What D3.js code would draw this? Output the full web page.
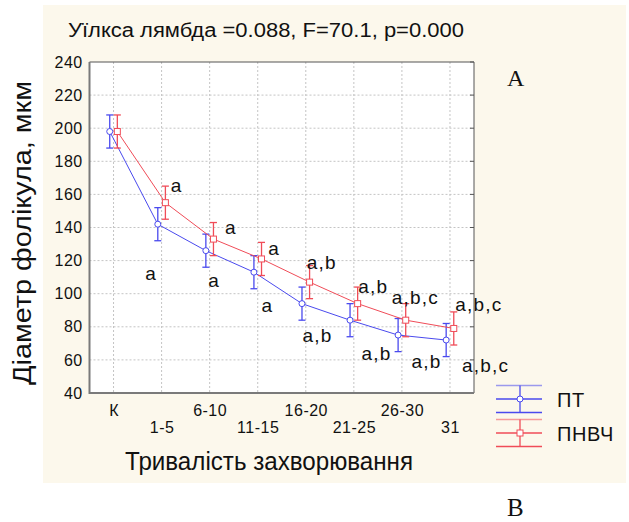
<!DOCTYPE html>
<html>
<head>
<meta charset="utf-8">
<script src="https://cdn.jsdelivr.net/npm/d3@7"></script>
<style>
  body { margin: 0; background: #fff; }
  svg { display: block; font-family: Arial, "Liberation Sans", sans-serif; }
</style>
</head>
<body>
<svg></svg>
<script>
const width = 629;
const height = 522;

// categories on x (тривалість захворювання)
const categories = ["К", "1-5", "6-10", "11-15", "16-20", "21-25", "26-30", "31"];
const yTicks = [40, 60, 80, 100, 120, 140, 160, 180, 200, 220, 240];

// series values (mean diameter, mkm) and CI half-width
const ptMean = [198, 142, 126, 113, 94, 84, 75, 72];
const ptCi = [10, 10, 10, 10, 10, 10, 10, 10];
const pnvchMean = [198, 155, 133, 121, 107, 94, 84, 79];
const pnvchCi = [10, 10, 10, 10, 10, 10, 10, 10];

// significance letters, placed at (category index, mkm)
const pnvchMarks = ["a", "a", "a", "a,b", "a,b", "a,b,c", "a,b,c"];
const pnvchMarkAt = [[1.19, 161.6], [2.32, 136.1], [3.22, 123.4], [4.02, 114.7], [5.09, 100.6], [5.79, 93.6], [7.11, 89.6]];
const ptMarks = ["a", "a", "a", "a,b", "a,b", "a,b", "a,b,c"];
const ptMarkAt = [[0.66, 108.3], [1.97, 104.2], [3.08, 89.1], [3.93, 71], [5.16, 60], [6.2, 55.3], [7.25, 52.9]];

const blue = "#4a4aee";
const red = "#f04c58";

var svg = d3.select("svg")
  .attr("width", width)
  .attr("height", height);

// beige panel
svg.append("rect")
  .attr("x", 43).attr("y", 5)
  .attr("width", 583).attr("height", 478)
  .attr("fill", "#fcf8ec");

const pLeft = 89.5, pRight = 474, pTop = 62, pBottom = 393;

const x = d3.scaleLinear().domain([-0.5, 7.5]).range([pLeft, pRight]);
const y = d3.scaleLinear().domain([40, 240]).range([pBottom, pTop]);

svg.append("rect")
  .attr("x", pLeft).attr("y", pTop)
  .attr("width", pRight - pLeft).attr("height", pBottom - pTop)
  .attr("fill", "#fff");

// grid
svg.append("g").selectAll("line")
  .data(d3.range(categories.length))
  .enter().append("line")
  .attr("x1", d => x(d)).attr("x2", d => x(d))
  .attr("y1", pTop).attr("y2", pBottom)
  .attr("stroke", "#c4c4c4").attr("stroke-dasharray", "2,2");

svg.append("g").selectAll("line")
  .data(yTicks.slice(1, -1))
  .enter().append("line")
  .attr("x1", pLeft).attr("x2", pRight)
  .attr("y1", d => y(d)).attr("y2", d => y(d))
  .attr("stroke", "#c4c4c4").attr("stroke-dasharray", "2,2");

// right inner ticks
svg.append("g").selectAll("line")
  .data(yTicks)
  .enter().append("line")
  .attr("x1", pRight - 4).attr("x2", pRight)
  .attr("y1", d => y(d)).attr("y2", d => y(d))
  .attr("stroke", "#555");

// frame
svg.append("path")
  .attr("d", `M${pLeft},${pTop}H${pRight}V${pBottom}`)
  .attr("fill", "none").attr("stroke", "#555").attr("stroke-width", 1);
svg.append("path")
  .attr("d", `M${pLeft},${pTop}V${pBottom}H${pRight}`)
  .attr("fill", "none").attr("stroke", "#7a7a7a").attr("stroke-width", 2);

// axes
const yAxis = svg.append("g")
  .attr("transform", `translate(${pLeft},0)`)
  .call(d3.axisLeft(y).tickValues(yTicks).tickSize(0).tickPadding(7));
yAxis.select(".domain").remove();
yAxis.selectAll("text")
  .attr("font-size", 16).attr("fill", "#111")
  .attr("font-family", "Arial, 'Liberation Sans', sans-serif")
  .attr("letter-spacing", 0.4);

const xAxis = svg.append("g")
  .attr("transform", `translate(0,${pBottom})`)
  .call(d3.axisBottom(x).tickValues(d3.range(categories.length))
    .tickFormat(i => categories[i]).tickSize(0));
xAxis.select(".domain").remove();
xAxis.selectAll("text")
  .attr("font-size", 16).attr("fill", "#111")
  .attr("font-family", "Arial, 'Liberation Sans', sans-serif")
  .attr("letter-spacing", 0.5)
  .attr("dy", 0)
  .attr("y", (d, i) => i % 2 ? 40 : 23);

// series
function drawSeries(mean, ci, color, dodge, shape) {
  const g = svg.append("g");
  const px = (d, i) => x(i) + dodge;
  g.append("path")
    .datum(mean)
    .attr("fill", "none").attr("stroke", color).attr("stroke-width", 1)
    .attr("d", d3.line().x(px).y(d => y(d)));
  const bars = g.selectAll(".err").data(mean).enter().append("g")
    .attr("stroke", color).attr("stroke-width", 1.3);
  bars.append("line")
    .attr("x1", px).attr("x2", px)
    .attr("y1", (d, i) => y(d - ci[i])).attr("y2", (d, i) => y(d + ci[i]));
  bars.append("line")
    .attr("x1", (d, i) => px(d, i) - 3.5).attr("x2", (d, i) => px(d, i) + 3.5)
    .attr("y1", (d, i) => y(d + ci[i])).attr("y2", (d, i) => y(d + ci[i]));
  bars.append("line")
    .attr("x1", (d, i) => px(d, i) - 3.5).attr("x2", (d, i) => px(d, i) + 3.5)
    .attr("y1", (d, i) => y(d - ci[i])).attr("y2", (d, i) => y(d - ci[i]));
  if (shape === "circle") {
    g.selectAll("circle").data(mean).enter().append("circle")
      .attr("cx", px).attr("cy", d => y(d)).attr("r", 3)
      .attr("fill", "#fff").attr("stroke", color).attr("stroke-width", 1);
  } else {
    g.selectAll("rect.m").data(mean).enter().append("rect")
      .attr("x", (d, i) => px(d, i) - 3).attr("y", d => y(d) - 3)
      .attr("width", 6).attr("height", 6)
      .attr("fill", "#fff").attr("stroke", color).attr("stroke-width", 1);
  }
}
drawSeries(ptMean, ptCi, blue, -3.8, "circle");
drawSeries(pnvchMean, pnvchCi, red, 3.8, "square");

// significance letters
function drawMarks(marks, at) {
  svg.append("g").selectAll("text")
    .data(marks).enter().append("text")
    .attr("x", (d, i) => x(at[i][0]))
    .attr("y", (d, i) => y(at[i][1]))
    .attr("font-size", 19).attr("fill", "#111")
    .attr("letter-spacing", 1.2)
    .text(d => d);
}
drawMarks(pnvchMarks, pnvchMarkAt);
drawMarks(ptMarks, ptMarkAt);

// title
svg.append("text")
  .attr("x", 68).attr("y", 36.5)
  .attr("font-size", 20).attr("fill", "#111")
  .attr("textLength", 396).attr("lengthAdjust", "spacingAndGlyphs")
  .text("Уїлкса лямбда =0.088,  F=70.1,  p=0.000");

// axis titles
svg.append("text")
  .attr("transform", "translate(31,233) rotate(-90)")
  .attr("text-anchor", "middle")
  .attr("font-size", 26).attr("fill", "#111")
  .attr("textLength", 304).attr("lengthAdjust", "spacingAndGlyphs")
  .text("Діаметр фолікула, мкм");

svg.append("text")
  .attr("x", 269).attr("y", 470)
  .attr("text-anchor", "middle")
  .attr("font-size", 25).attr("fill", "#111")
  .attr("textLength", 288).attr("lengthAdjust", "spacingAndGlyphs")
  .text("Тривалість захворювання");

// legend
const legend = svg.append("g");
[[blue, "ПТ", 399, "circle"], [red, "ПНВЧ", 433, "square"]].forEach(function (s) {
  const cy = s[2];
  const lg = legend.append("g").attr("stroke", s[0]).attr("stroke-width", 1.3);
  [-13.5, 0, 13.5].forEach(function (o) {
    lg.append("line").attr("x1", 496).attr("x2", 542)
      .attr("y1", cy + o).attr("y2", cy + o)
      .attr("stroke-opacity", o < 0 ? 0.55 : 1);
  });
  lg.append("line").attr("x1", 520).attr("x2", 520)
    .attr("y1", cy - 13.5).attr("y2", cy + 13.5);
  if (s[3] === "circle") {
    lg.append("circle").attr("cx", 520).attr("cy", cy).attr("r", 3)
      .attr("fill", "#fff").attr("stroke-width", 1);
  } else {
    lg.append("rect").attr("x", 517).attr("y", cy - 3)
      .attr("width", 6).attr("height", 6)
      .attr("fill", "#fff").attr("stroke-width", 1);
  }
  legend.append("text")
    .attr("x", 557).attr("y", cy + 7.5)
    .attr("font-size", 20).attr("fill", "#111")
    .attr("letter-spacing", 0.6)
    .text(s[1]);
});

// panel letters
svg.append("text")
  .attr("x", 507).attr("y", 86)
  .attr("font-family", "'Liberation Serif', 'DejaVu Serif', serif")
  .attr("font-size", 24).attr("fill", "#111")
  .text("A");
svg.append("text")
  .attr("x", 507).attr("y", 516)
  .attr("font-family", "'Liberation Serif', 'DejaVu Serif', serif")
  .attr("font-size", 25).attr("fill", "#111")
  .text("B");
</script>
</body>
</html>
